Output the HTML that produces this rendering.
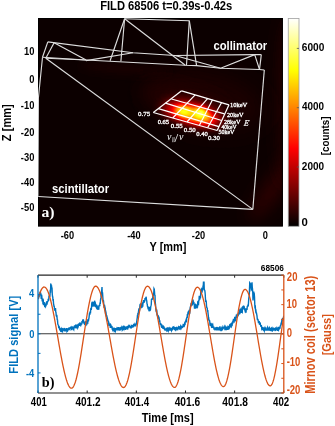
<!DOCTYPE html><html><head><meta charset="utf-8"><style>html,body{margin:0;padding:0;background:#fff;overflow:hidden}svg{display:block;will-change:transform}</style></head><body><svg width="335" height="426" viewBox="0 0 335 426"><defs><clipPath id="img"><rect x="38.0" y="18.0" width="244.89999999999998" height="208.6"/></clipPath><clipPath id="ax"><rect x="38" y="275" width="245.8" height="118"/></clipPath><linearGradient id="hot" x1="0" y1="1" x2="0" y2="0"><stop offset="0" stop-color="#000"/><stop offset="0.375" stop-color="#f00"/><stop offset="0.75" stop-color="#ff0"/><stop offset="1" stop-color="#fff"/></linearGradient><filter id="b2" filterUnits="userSpaceOnUse" x="-300" y="-300" width="935" height="1026"><feGaussianBlur stdDeviation="2"/></filter><filter id="b3" filterUnits="userSpaceOnUse" x="-300" y="-300" width="935" height="1026"><feGaussianBlur stdDeviation="3"/></filter><filter id="b4" filterUnits="userSpaceOnUse" x="-300" y="-300" width="935" height="1026"><feGaussianBlur stdDeviation="4"/></filter><filter id="b6" filterUnits="userSpaceOnUse" x="-300" y="-300" width="935" height="1026"><feGaussianBlur stdDeviation="6"/></filter><filter id="b8" filterUnits="userSpaceOnUse" x="-300" y="-300" width="935" height="1026"><feGaussianBlur stdDeviation="8"/></filter><filter id="b12" filterUnits="userSpaceOnUse" x="-300" y="-300" width="935" height="1026"><feGaussianBlur stdDeviation="12"/></filter><filter id="hotf" x="0" y="0" width="335" height="426" filterUnits="userSpaceOnUse" color-interpolation-filters="sRGB"><feComponentTransfer><feFuncR type="table" tableValues="0.0000 0.0007 0.0026 0.0059 0.0104 0.0163 0.0234 0.0319 0.0417 0.0527 0.0651 0.0788 0.0938 0.1100 0.1276 0.1465 0.1667 0.1882 0.2109 0.2350 0.2604 0.2871 0.3151 0.3444 0.3750 0.4069 0.4401 0.4746 0.5104 0.5475 0.5859 0.6257 0.6667 0.7090 0.7526 0.7975 0.8438 0.8913 0.9401 0.9902 1.0000 1.0000 1.0000 1.0000 1.0000 1.0000 1.0000 1.0000 1.0000 1.0000 1.0000 1.0000 1.0000 1.0000 1.0000 1.0000 1.0000 1.0000 1.0000 1.0000 1.0000 1.0000 1.0000 1.0000 1.0000"/><feFuncG type="table" tableValues="0.0000 0.0000 0.0000 0.0000 0.0000 0.0000 0.0000 0.0000 0.0000 0.0000 0.0000 0.0000 0.0000 0.0000 0.0000 0.0000 0.0000 0.0000 0.0000 0.0000 0.0000 0.0000 0.0000 0.0000 0.0000 0.0000 0.0000 0.0000 0.0000 0.0000 0.0000 0.0000 0.0000 0.0000 0.0000 0.0000 0.0000 0.0000 0.0000 0.0000 0.0417 0.0944 0.1484 0.2038 0.2604 0.3184 0.3776 0.4382 0.5000 0.5632 0.6276 0.6934 0.7604 0.8288 0.8984 0.9694 1.0000 1.0000 1.0000 1.0000 1.0000 1.0000 1.0000 1.0000 1.0000"/><feFuncB type="table" tableValues="0.0000 0.0000 0.0000 0.0000 0.0000 0.0000 0.0000 0.0000 0.0000 0.0000 0.0000 0.0000 0.0000 0.0000 0.0000 0.0000 0.0000 0.0000 0.0000 0.0000 0.0000 0.0000 0.0000 0.0000 0.0000 0.0000 0.0000 0.0000 0.0000 0.0000 0.0000 0.0000 0.0000 0.0000 0.0000 0.0000 0.0000 0.0000 0.0000 0.0000 0.0000 0.0000 0.0000 0.0000 0.0000 0.0000 0.0000 0.0000 0.0000 0.0000 0.0000 0.0000 0.0000 0.0000 0.0000 0.0000 0.0625 0.1729 0.2852 0.3994 0.5156 0.6338 0.7539 0.8760 1.0000"/></feComponentTransfer></filter></defs><rect width="335" height="426" fill="#fff"/><text transform="translate(100.15,9.70) scale(0.9173,1)" font-size="12.210" font-family="Liberation Sans" font-weight="bold" fill="#000">FILD 68506 t=0.39s-0.42s</text><g clip-path="url(#img)"><g filter="url(#hotf)"><rect x="30" y="10" width="260" height="225" fill="rgb(35,35,35)"/><ellipse cx="276" cy="185" rx="10" ry="45" transform="rotate(36 276 185)" fill="rgb(67,67,67)" filter="url(#b8)"/><ellipse cx="288" cy="100" rx="10" ry="85" fill="rgb(62,62,62)" filter="url(#b8)"/><ellipse cx="205" cy="100" rx="60" ry="28" transform="rotate(12 205 100)" fill="rgb(54,54,54)" filter="url(#b12)"/><ellipse cx="125" cy="69" rx="45" ry="5" transform="rotate(4 125 69)" fill="rgb(51,51,51)" filter="url(#b4)"/><g transform="rotate(15 190 112)"><ellipse cx="182" cy="104" rx="45" ry="14" fill="rgb(57,57,57)" filter="url(#b8)"/><ellipse cx="171" cy="116" rx="12" ry="4.5" fill="rgb(102,102,102)" filter="url(#b4)"/><ellipse cx="194" cy="113" rx="31" ry="12" fill="rgb(161,161,161)" filter="url(#b6)"/><ellipse cx="194" cy="113.5" rx="20" ry="7" fill="rgb(201,201,201)" filter="url(#b3)"/></g><ellipse cx="200.5" cy="113" rx="6" ry="4.5" fill="rgb(251,251,251)" filter="url(#b3)"/><ellipse cx="184" cy="111.5" rx="7" ry="3.5" fill="rgb(239,239,239)" filter="url(#b3)"/></g><rect x="38.5" y="18.5" width="243.89999999999998" height="207.6" fill="none" stroke="#000" stroke-width="1"/><polyline points="47.8,41.9 42.5,57.2" fill="none" stroke="#dedede" stroke-width="1.15" stroke-linejoin="round"/><polyline points="47.8,41.9 133,52.7 175,55.5 254.7,54.6 261.3,54.6" fill="none" stroke="#dedede" stroke-width="1.15" stroke-linejoin="round"/><polyline points="54.1,42.8 86.1,60" fill="none" stroke="#dedede" stroke-width="1.15" stroke-linejoin="round"/><polyline points="54.1,42.8 45.8,58.3" fill="none" stroke="#dedede" stroke-width="1.15" stroke-linejoin="round"/><polyline points="42.5,57.2 86.1,60" fill="none" stroke="#dedede" stroke-width="1.15" stroke-linejoin="round"/><polyline points="45.8,58.3 86.1,60" fill="none" stroke="#dedede" stroke-width="1.15" stroke-linejoin="round"/><polyline points="86.1,60.6 133,52.8" fill="none" stroke="#dedede" stroke-width="1.15" stroke-linejoin="round"/><polyline points="86.1,60 185.3,65.3 196.6,65.6 220.6,68.2 259.5,69.5 264.3,70" fill="none" stroke="#dedede" stroke-width="1.15" stroke-linejoin="round"/><polyline points="124.6,18.8 110.1,60.8" fill="none" stroke="#dedede" stroke-width="1.15" stroke-linejoin="round"/><polyline points="124.6,18.8 120.9,61.2" fill="none" stroke="#dedede" stroke-width="1.15" stroke-linejoin="round"/><polyline points="124.6,18.8 185.3,65.3" fill="none" stroke="#dedede" stroke-width="1.15" stroke-linejoin="round"/><polyline points="124.6,18.8 189.3,20.7" fill="none" stroke="#dedede" stroke-width="1.15" stroke-linejoin="round"/><polyline points="189.3,20.7 186.5,65.3" fill="none" stroke="#dedede" stroke-width="1.15" stroke-linejoin="round"/><polyline points="189.3,20.7 196.6,65.6" fill="none" stroke="#dedede" stroke-width="1.15" stroke-linejoin="round"/><polyline points="175,55.5 220.6,68.2 254.7,54.6 259.5,69.5" fill="none" stroke="#dedede" stroke-width="1.15" stroke-linejoin="round"/><polyline points="261.3,54.6 259.5,69.5" fill="none" stroke="#dedede" stroke-width="1.15" stroke-linejoin="round"/><polyline points="264.3,70 252.8,209.4" fill="none" stroke="#dedede" stroke-width="1.15" stroke-linejoin="round"/><polyline points="45.8,58.3 252.8,209.4" fill="none" stroke="#dedede" stroke-width="1.15" stroke-linejoin="round"/><polyline points="38.2,196.5 252.8,209.4" fill="none" stroke="#dedede" stroke-width="1.15" stroke-linejoin="round"/><polyline points="42.5,57.2 38.4,98 37.9,196.5" fill="none" stroke="#dedede" stroke-width="1.15" stroke-linejoin="round"/><polyline points="181.6,90.8 229.0,104.8" fill="none" stroke="#fff" stroke-width="1.2"/><polyline points="171.5,99.0 224.5,113.8" fill="none" stroke="#fff" stroke-width="1.2"/><polyline points="165.5,103.1 221.6,120.5" fill="none" stroke="#fff" stroke-width="1.2"/><polyline points="158.4,108.6 218.9,126.6" fill="none" stroke="#fff" stroke-width="1.2"/><polyline points="153.3,112.5 217.2,130.5" fill="none" stroke="#fff" stroke-width="1.2"/><polyline points="153.3,112.5 181.6,90.8" fill="none" stroke="#fff" stroke-width="1.2"/><polyline points="172.7,118.0 195.2,94.8" fill="none" stroke="#fff" stroke-width="1.2"/><polyline points="187,122.0 207.8,98.4" fill="none" stroke="#fff" stroke-width="1.2"/><polyline points="199.3,125.5 212.5,99.8" fill="none" stroke="#fff" stroke-width="1.2"/><polyline points="207.6,127.8 221.6,102.5" fill="none" stroke="#fff" stroke-width="1.2"/><polyline points="217.2,130.5 229.0,104.8" fill="none" stroke="#fff" stroke-width="1.2"/><text transform="translate(213.46,50.00) scale(0.8573,1)" font-size="13.111" font-family="Liberation Sans" font-weight="bold" fill="#fff">collimator</text><text transform="translate(51.90,192.50) scale(0.9034,1)" font-size="12.558" font-family="Liberation Sans" font-weight="bold" fill="#fff">scintillator</text><text transform="translate(41.39,217.09) scale(1.1138,1)" font-size="14.117" font-family="Liberation Serif" font-weight="bold" fill="#fff">a)</text><g stroke="#fff" stroke-width="0.3"><text transform="translate(138.04,116.13) scale(1.0398,1)" font-size="6.669" font-family="Liberation Serif" fill="#fff">0.75</text><text transform="translate(157.65,124.14) scale(1.0724,1)" font-size="6.076" font-family="Liberation Serif" fill="#fff">0.65</text><text transform="translate(170.84,128.44) scale(1.1496,1)" font-size="5.928" font-family="Liberation Serif" fill="#fff">0.55</text><text transform="translate(183.74,132.03) scale(1.0303,1)" font-size="6.669" font-family="Liberation Serif" fill="#fff">0.50</text><text transform="translate(196.15,136.04) scale(1.0262,1)" font-size="6.520" font-family="Liberation Serif" fill="#fff">0.40</text><text transform="translate(207.94,140.03) scale(0.9864,1)" font-size="6.965" font-family="Liberation Serif" fill="#fff">0.30</text><text transform="translate(229.93,106.60) scale(1.0498,1)" font-size="6.197" font-family="Liberation Serif" fill="#fff">10keV</text><text transform="translate(227.03,117.40) scale(0.9724,1)" font-size="6.341" font-family="Liberation Serif" fill="#fff">20keV</text><text transform="translate(223.93,123.70) scale(0.9950,1)" font-size="6.197" font-family="Liberation Serif" fill="#fff">28keV</text><text transform="translate(221.39,129.10) scale(0.9246,1)" font-size="6.197" font-family="Liberation Serif" fill="#fff">40keV</text><text transform="translate(218.45,134.40) scale(0.9694,1)" font-size="6.197" font-family="Liberation Serif" fill="#fff">50keV</text></g><g transform="translate(246 123) skewX(-10) translate(-246 -123)" stroke="#fff" stroke-width="0.2"><text transform="translate(244.00,125.80) scale(0.9150,1)" font-size="9.011" font-family="Liberation Serif" font-style="italic" fill="#fff">E</text></g><g><text transform="translate(166.96,140.01) scale(1.0649,1)" font-size="9.387" font-family="Liberation Serif" font-style="italic" fill="#fff">ν</text><path d="M172.9,137.1 L172.5,142.2 M174.3,137.1 L173.9,142.2" stroke="#fff" stroke-width="0.55" fill="none"/><text transform="translate(174.60,142.17) scale(0.9898,1)" font-size="13.454" font-family="Liberation Serif" fill="#fff">/</text><text transform="translate(178.96,140.01) scale(1.0649,1)" font-size="9.387" font-family="Liberation Serif" font-style="italic" fill="#fff">ν</text></g></g><text transform="translate(23.95,55.34) scale(0.8000,1)" font-size="11.723" font-family="Liberation Sans" font-weight="bold" fill="#000">10</text><text transform="translate(29.17,82.69) scale(0.8000,1)" font-size="11.723" font-family="Liberation Sans" font-weight="bold" fill="#000">0</text><text transform="translate(20.83,109.34) scale(0.8000,1)" font-size="11.723" font-family="Liberation Sans" font-weight="bold" fill="#000">-10</text><text transform="translate(20.83,135.64) scale(0.8000,1)" font-size="11.723" font-family="Liberation Sans" font-weight="bold" fill="#000">-20</text><text transform="translate(20.83,160.94) scale(0.8000,1)" font-size="11.723" font-family="Liberation Sans" font-weight="bold" fill="#000">-30</text><text transform="translate(20.83,186.24) scale(0.8000,1)" font-size="11.723" font-family="Liberation Sans" font-weight="bold" fill="#000">-40</text><text transform="translate(20.83,210.74) scale(0.8000,1)" font-size="11.723" font-family="Liberation Sans" font-weight="bold" fill="#000">-50</text><text transform="translate(60.71,238.69) scale(0.8000,1)" font-size="11.582" font-family="Liberation Sans" font-weight="bold" fill="#000">-60</text><text transform="translate(127.16,238.69) scale(0.8000,1)" font-size="11.582" font-family="Liberation Sans" font-weight="bold" fill="#000">-40</text><text transform="translate(191.86,238.69) scale(0.8000,1)" font-size="11.582" font-family="Liberation Sans" font-weight="bold" fill="#000">-20</text><text transform="translate(262.73,238.69) scale(0.8000,1)" font-size="11.582" font-family="Liberation Sans" font-weight="bold" fill="#000">0</text><text transform="translate(149.51,251.12) scale(0.8163,1)" font-size="13.410" font-family="Liberation Sans" font-weight="bold" fill="#000">Y [mm]</text><text transform="translate(11.08,141.13) rotate(-90) scale(0.8471,1)" font-size="13.088" font-family="Liberation Sans" font-weight="bold" fill="#000">Z [mm]</text><rect x="288.25" y="18.5" width="10.75" height="207.8" fill="url(#hot)" stroke="#a0a0a0" stroke-width="0.8"/><line x1="296.8" y1="167.00" x2="299" y2="167.00" stroke="#555" stroke-width="0.8"/><line x1="296.8" y1="107.70" x2="299" y2="107.70" stroke="#555" stroke-width="0.8"/><line x1="296.8" y1="48.40" x2="299" y2="48.40" stroke="#555" stroke-width="0.8"/><text transform="translate(301.83,51.49) scale(0.8661,1)" font-size="11.723" font-family="Liberation Sans" font-weight="bold" fill="#000">6000</text><text transform="translate(302.05,110.19) scale(0.8666,1)" font-size="11.441" font-family="Liberation Sans" font-weight="bold" fill="#000">4000</text><text transform="translate(301.85,170.29) scale(0.8639,1)" font-size="11.582" font-family="Liberation Sans" font-weight="bold" fill="#000">2000</text><text transform="translate(301.45,226.29) scale(0.9925,1)" font-size="11.441" font-family="Liberation Sans" font-weight="bold" fill="#000">0</text><text transform="translate(328.57,155.15) rotate(-90) scale(0.8392,1)" font-size="11.694" font-family="Liberation Sans" font-weight="bold" fill="#000">[counts]</text><line x1="38.0" y1="333.8" x2="283.8" y2="333.8" stroke="#3a3a3a" stroke-width="1.1"/><g clip-path="url(#ax)"><polyline points="38.00,297.87 38.25,296.25 38.50,298.98 38.75,294.71 39.00,297.24 39.25,295.61 39.50,293.06 39.75,295.55 40.00,291.88 40.25,294.89 40.50,292.80 40.75,293.29 41.00,295.85 41.25,298.84 41.50,294.55 41.75,295.55 42.00,298.53 42.25,301.46 42.50,299.96 42.75,299.71 43.00,304.20 43.25,299.37 43.50,305.19 43.75,302.66 44.00,302.71 44.25,302.71 44.50,303.98 44.75,307.09 45.00,303.54 45.25,306.02 45.50,306.50 45.75,305.11 46.00,306.28 46.25,302.83 46.50,302.16 46.75,302.38 47.00,304.58 47.25,302.44 47.50,301.12 47.75,302.15 48.00,300.71 48.25,298.80 48.50,301.00 48.75,299.47 49.00,295.57 49.25,296.81 49.50,295.54 49.75,296.99 50.00,295.08 50.25,289.87 50.50,292.74 50.75,284.28 51.00,284.37 51.25,288.36 51.50,285.28 51.75,289.19 52.00,287.41 52.25,293.78 52.50,296.32 52.75,296.92 53.00,300.77 53.25,299.09 53.50,303.37 53.75,304.65 54.00,306.46 54.25,306.48 54.50,309.36 54.75,310.65 55.00,308.76 55.25,310.52 55.50,307.99 55.75,312.14 56.00,312.57 56.25,315.72 56.50,316.21 56.75,314.95 57.00,316.86 57.25,320.32 57.50,319.62 57.75,323.69 58.00,324.69 58.25,324.92 58.50,325.14 58.75,328.31 59.00,326.29 59.25,327.17 59.50,328.14 59.75,330.35 60.00,327.87 60.25,329.29 60.50,329.73 60.75,331.02 61.00,330.86 61.25,331.09 61.50,329.05 61.75,329.62 62.00,329.49 62.25,331.37 62.50,331.62 62.75,328.69 63.00,328.77 63.25,328.96 63.50,328.94 63.75,329.84 64.00,330.20 64.25,329.00 64.50,328.05 64.75,329.54 65.00,329.34 65.25,330.04 65.50,331.42 65.75,330.46 66.00,329.81 66.25,330.16 66.50,330.36 66.75,328.09 67.00,331.14 67.25,330.69 67.50,331.02 67.75,330.72 68.00,329.23 68.25,329.24 68.50,328.15 68.75,330.07 69.00,327.97 69.25,327.97 69.50,328.47 69.75,328.29 70.00,328.92 70.25,327.75 70.50,327.44 70.75,327.87 71.00,327.57 71.25,328.42 71.50,327.05 71.75,330.08 72.00,329.00 72.25,327.15 72.50,327.41 72.75,327.65 73.00,327.60 73.25,326.57 73.50,329.20 73.75,329.64 74.00,327.52 74.25,327.47 74.50,325.83 74.75,325.77 75.00,326.58 75.25,326.16 75.50,328.23 75.75,325.53 76.00,324.87 76.25,328.37 76.50,326.60 76.75,324.99 77.00,326.43 77.25,324.28 77.50,326.14 77.75,327.81 78.00,327.25 78.25,326.37 78.50,324.40 78.75,324.61 79.00,323.57 79.25,325.81 79.50,324.62 79.75,325.42 80.00,323.35 80.25,322.68 80.50,324.91 80.75,325.43 81.00,324.66 81.25,324.25 81.50,324.09 81.75,323.54 82.00,321.13 82.25,322.28 82.50,321.48 82.75,319.97 83.00,319.86 83.25,320.84 83.50,320.65 83.75,322.44 84.00,323.49 84.25,321.55 84.50,323.94 84.75,324.42 85.00,324.54 85.25,322.30 85.50,321.97 85.75,322.28 86.00,322.44 86.25,322.10 86.50,323.50 86.75,324.32 87.00,323.71 87.25,321.80 87.50,322.19 87.75,322.48 88.00,318.96 88.25,320.48 88.50,320.59 88.75,318.98 89.00,317.80 89.25,315.44 89.50,312.89 89.75,314.92 90.00,311.53 90.25,313.01 90.50,312.98 90.75,308.91 91.00,307.95 91.25,310.04 91.50,307.83 91.75,303.66 92.00,302.40 92.25,302.37 92.50,306.65 92.75,305.89 93.00,301.80 93.25,305.67 93.50,306.42 93.75,304.32 94.00,302.30 94.25,303.67 94.50,301.34 94.75,300.83 95.00,306.70 95.25,304.96 95.50,304.41 95.75,306.98 96.00,304.21 96.25,307.44 96.50,307.83 96.75,304.98 97.00,305.90 97.25,306.82 97.50,307.22 97.75,309.80 98.00,308.70 98.25,308.68 98.50,306.20 98.75,309.69 99.00,305.66 99.25,305.38 99.50,305.24 99.75,306.28 100.00,302.52 100.25,304.08 100.50,300.01 100.75,298.70 101.00,297.15 101.25,292.17 101.50,293.39 101.75,289.98 102.00,287.06 102.25,294.61 102.50,292.22 102.75,296.20 103.00,299.75 103.25,300.43 103.50,300.78 103.75,303.73 104.00,305.72 104.25,307.91 104.50,304.92 104.75,308.36 105.00,307.52 105.25,308.57 105.50,312.10 105.75,311.57 106.00,312.72 106.25,314.77 106.50,316.56 106.75,315.27 107.00,317.14 107.25,317.68 107.50,318.76 107.75,320.62 108.00,320.59 108.25,321.47 108.50,321.75 108.75,324.27 109.00,323.74 109.25,325.00 109.50,325.78 109.75,323.49 110.00,325.24 110.25,327.23 110.50,327.25 110.75,324.92 111.00,325.33 111.25,327.03 111.50,326.07 111.75,327.17 112.00,327.01 112.25,329.29 112.50,329.77 112.75,330.25 113.00,327.55 113.25,329.69 113.50,329.54 113.75,327.69 114.00,330.48 114.25,330.84 114.50,328.15 114.75,330.90 115.00,328.93 115.25,329.23 115.50,331.04 115.75,330.44 116.00,327.95 116.25,328.91 116.50,329.20 116.75,328.52 117.00,327.96 117.25,328.39 117.50,329.85 117.75,327.23 118.00,329.18 118.25,328.73 118.50,327.14 118.75,328.27 119.00,329.33 119.25,328.89 119.50,327.20 119.75,330.59 120.00,329.83 120.25,330.49 120.50,327.24 120.75,327.81 121.00,326.94 121.25,329.67 121.50,327.74 121.75,327.19 122.00,328.26 122.25,330.06 122.50,329.68 122.75,327.56 123.00,327.13 123.25,329.98 123.50,328.65 123.75,329.11 124.00,326.79 124.25,326.64 124.50,328.98 124.75,327.97 125.00,326.62 125.25,329.85 125.50,328.68 125.75,329.28 126.00,326.55 126.25,329.43 126.50,326.43 126.75,329.40 127.00,327.83 127.25,327.37 127.50,328.15 127.75,329.54 128.00,327.02 128.25,326.45 128.50,327.91 128.75,326.77 129.00,326.24 129.25,326.39 129.50,325.92 129.75,326.46 130.00,326.83 130.25,326.76 130.50,328.46 130.75,326.61 131.00,327.38 131.25,326.09 131.50,326.70 131.75,325.39 132.00,326.24 132.25,325.05 132.50,327.56 132.75,326.58 133.00,324.87 133.25,325.72 133.50,327.29 133.75,323.69 134.00,326.29 134.25,324.65 134.50,324.83 134.75,326.14 135.00,324.26 135.25,324.65 135.50,325.32 135.75,326.45 136.00,323.75 136.25,324.62 136.50,322.94 136.75,321.48 137.00,319.27 137.25,317.82 137.50,315.24 137.75,314.38 138.00,312.88 138.25,315.09 138.50,311.49 138.75,309.86 139.00,308.27 139.25,311.24 139.50,310.31 139.75,308.09 140.00,304.74 140.25,304.34 140.50,304.45 140.75,305.24 141.00,303.31 141.25,304.81 141.50,303.56 141.75,307.49 142.00,307.38 142.25,304.62 142.50,302.56 142.75,306.59 143.00,302.41 143.25,302.43 143.50,300.02 143.75,302.05 144.00,302.35 144.25,302.17 144.50,299.96 144.75,301.48 145.00,298.03 145.25,299.28 145.50,297.83 145.75,299.42 146.00,296.80 146.25,297.60 146.50,300.27 146.75,300.74 147.00,303.76 147.25,304.31 147.50,306.49 147.75,306.82 148.00,308.03 148.25,309.38 148.50,307.06 148.75,307.14 149.00,311.23 149.25,307.06 149.50,310.65 149.75,310.64 150.00,307.85 150.25,310.65 150.50,309.51 150.75,306.54 151.00,305.68 151.25,304.69 151.50,299.07 151.75,299.95 152.00,298.33 152.25,299.53 152.50,298.39 152.75,297.60 153.00,295.02 153.25,296.19 153.50,293.80 153.75,292.93 154.00,288.67 154.25,289.18 154.50,291.80 154.75,295.22 155.00,295.44 155.25,302.99 155.50,304.15 155.75,307.43 156.00,310.29 156.25,311.44 156.50,311.29 156.75,309.64 157.00,314.62 157.25,315.23 157.50,314.86 157.75,315.90 158.00,317.37 158.25,315.25 158.50,319.13 158.75,317.59 159.00,317.51 159.25,319.11 159.50,321.89 159.75,320.30 160.00,323.33 160.25,324.93 160.50,323.50 160.75,323.65 161.00,324.66 161.25,326.10 161.50,327.03 161.75,327.04 162.00,327.75 162.25,325.75 162.50,326.20 162.75,326.79 163.00,328.82 163.25,327.34 163.50,328.50 163.75,326.60 164.00,326.96 164.25,327.92 164.50,329.59 164.75,329.83 165.00,329.94 165.25,328.52 165.50,329.34 165.75,329.13 166.00,329.13 166.25,327.84 166.50,330.67 166.75,328.11 167.00,330.96 167.25,330.79 167.50,327.40 167.75,329.01 168.00,330.33 168.25,330.86 168.50,328.94 168.75,328.26 169.00,328.03 169.25,330.73 169.50,328.01 169.75,329.36 170.00,327.73 170.25,329.13 170.50,330.69 170.75,327.66 171.00,330.18 171.25,329.02 171.50,330.40 171.75,329.71 172.00,327.96 172.25,330.41 172.50,328.87 172.75,327.16 173.00,327.06 173.25,328.86 173.50,328.69 173.75,328.13 174.00,327.52 174.25,328.26 174.50,328.14 174.75,330.07 175.00,326.95 175.25,329.69 175.50,329.98 175.75,327.27 176.00,330.23 176.25,329.39 176.50,330.06 176.75,327.74 177.00,328.00 177.25,328.04 177.50,330.27 177.75,328.69 178.00,327.80 178.25,328.01 178.50,327.39 178.75,326.50 179.00,326.66 179.25,329.38 179.50,327.27 179.75,329.68 180.00,327.05 180.25,326.77 180.50,327.37 180.75,325.79 181.00,326.16 181.25,328.11 181.50,327.50 181.75,326.88 182.00,325.83 182.25,327.05 182.50,327.24 182.75,325.76 183.00,326.53 183.25,323.94 183.50,326.75 183.75,325.72 184.00,327.00 184.25,325.96 184.50,323.88 184.75,322.26 185.00,325.29 185.25,321.29 185.50,322.13 185.75,320.94 186.00,320.11 186.25,321.20 186.50,321.43 186.75,317.26 187.00,318.24 187.25,315.67 187.50,316.03 187.75,314.35 188.00,312.32 188.25,311.75 188.50,311.45 188.75,314.53 189.00,311.88 189.25,309.90 189.50,313.01 189.75,312.99 190.00,309.53 190.25,307.12 190.50,306.69 190.75,305.41 191.00,306.10 191.25,303.96 191.50,304.09 191.75,303.48 192.00,304.61 192.25,305.48 192.50,303.63 192.75,300.51 193.00,299.46 193.25,301.55 193.50,302.06 193.75,303.24 194.00,303.06 194.25,304.49 194.50,308.65 194.75,303.97 195.00,306.32 195.25,307.22 195.50,308.72 195.75,305.21 196.00,305.70 196.25,305.22 196.50,305.73 196.75,305.64 197.00,308.23 197.25,307.28 197.50,307.08 197.75,301.73 198.00,301.43 198.25,304.40 198.50,304.49 198.75,300.85 199.00,300.50 199.25,295.69 199.50,297.12 199.75,299.58 200.00,297.88 200.25,297.31 200.50,297.35 200.75,291.60 201.00,289.82 201.25,289.33 201.50,291.13 201.75,291.50 202.00,292.60 202.25,290.31 202.50,289.06 202.75,289.23 203.00,286.23 203.25,286.23 203.50,281.61 203.75,286.59 204.00,281.62 204.25,289.51 204.50,290.06 204.75,290.27 205.00,291.77 205.25,294.78 205.50,299.43 205.75,301.91 206.00,300.45 206.25,301.66 206.50,305.74 206.75,307.47 207.00,307.78 207.25,308.30 207.50,311.73 207.75,310.07 208.00,313.00 208.25,315.04 208.50,318.69 208.75,318.39 209.00,320.71 209.25,320.08 209.50,320.27 209.75,321.58 210.00,325.81 210.25,325.01 210.50,323.63 210.75,322.74 211.00,324.94 211.25,325.92 211.50,325.15 211.75,324.77 212.00,326.66 212.25,327.91 212.50,325.40 212.75,324.88 213.00,326.31 213.25,326.86 213.50,328.10 213.75,326.48 214.00,328.99 214.25,329.00 214.50,328.35 214.75,327.47 215.00,330.54 215.25,328.09 215.50,329.97 215.75,327.77 216.00,327.73 216.25,329.72 216.50,327.98 216.75,330.41 217.00,328.71 217.25,327.55 217.50,327.68 217.75,328.39 218.00,329.30 218.25,330.34 218.50,327.35 218.75,328.26 219.00,327.58 219.25,330.40 219.50,327.29 219.75,326.95 220.00,326.97 220.25,328.20 220.50,330.07 220.75,330.01 221.00,329.44 221.25,330.42 221.50,330.16 221.75,327.90 222.00,327.36 222.25,330.15 222.50,329.43 222.75,326.75 223.00,329.11 223.25,328.03 223.50,328.00 223.75,327.83 224.00,327.22 224.25,326.58 224.50,327.61 224.75,327.87 225.00,330.12 225.25,327.00 225.50,330.13 225.75,327.29 226.00,327.84 226.25,329.57 226.50,329.56 226.75,328.09 227.00,326.65 227.25,328.23 227.50,327.84 227.75,329.88 228.00,327.15 228.25,327.53 228.50,329.30 228.75,325.74 229.00,326.93 229.25,328.22 229.50,327.80 229.75,324.71 230.00,324.42 230.25,324.26 230.50,327.41 230.75,324.51 231.00,326.22 231.25,326.58 231.50,324.06 231.75,323.52 232.00,326.09 232.25,324.16 232.50,322.15 232.75,323.55 233.00,321.31 233.25,320.60 233.50,318.86 233.75,321.66 234.00,321.87 234.25,320.29 234.50,321.39 234.75,316.88 235.00,317.52 235.25,318.32 235.50,320.26 235.75,319.94 236.00,316.96 236.25,315.89 236.50,316.31 236.75,316.19 237.00,317.89 237.25,313.82 237.50,316.45 237.75,315.72 238.00,315.72 238.25,315.28 238.50,314.24 238.75,312.62 239.00,312.38 239.25,312.39 239.50,314.35 239.75,310.53 240.00,310.93 240.25,313.50 240.50,310.55 240.75,309.27 241.00,308.79 241.25,311.22 241.50,309.69 241.75,312.89 242.00,312.07 242.25,312.32 242.50,308.07 242.75,306.74 243.00,306.47 243.25,308.37 243.50,309.22 243.75,307.43 244.00,305.90 244.25,307.36 244.50,308.92 244.75,309.64 245.00,310.46 245.25,311.41 245.50,310.84 245.75,308.34 246.00,312.62 246.25,309.17 246.50,310.11 246.75,308.53 247.00,310.01 247.25,306.50 247.50,306.23 247.75,305.68 248.00,304.62 248.25,306.57 248.50,302.48 248.75,298.60 249.00,296.72 249.25,296.63 249.50,289.10 249.75,282.82 250.00,283.18 250.25,283.78 250.50,288.23 250.75,283.33 251.00,288.01 251.25,289.94 251.50,289.50 251.75,289.45 252.00,282.21 252.25,287.11 252.50,288.86 252.75,292.36 253.00,300.49 253.25,296.28 253.50,296.99 253.75,291.48 254.00,293.31 254.25,294.13 254.50,296.70 254.75,303.72 255.00,308.38 255.25,305.26 255.50,309.68 255.75,311.46 256.00,311.04 256.25,312.98 256.50,313.02 256.75,314.51 257.00,315.93 257.25,318.71 257.50,320.09 257.75,319.23 258.00,319.58 258.25,321.27 258.50,323.09 258.75,321.30 259.00,322.15 259.25,322.01 259.50,324.81 259.75,324.09 260.00,322.40 260.25,323.09 260.50,324.80 260.75,325.94 261.00,326.80 261.25,325.17 261.50,325.98 261.75,328.53 262.00,327.96 262.25,327.56 262.50,327.73 262.75,330.22 263.00,327.90 263.25,328.92 263.50,328.22 263.75,328.52 264.00,330.25 264.25,330.81 264.50,328.55 264.75,328.01 265.00,330.04 265.25,328.11 265.50,327.39 265.75,330.67 266.00,328.92 266.25,330.38 266.50,328.86 266.75,330.61 267.00,329.06 267.25,327.96 267.50,327.42 267.75,329.39 268.00,329.72 268.25,330.70 268.50,327.69 268.75,329.65 269.00,328.73 269.25,329.22 269.50,327.90 269.75,328.40 270.00,329.28 270.25,330.76 270.50,327.76 270.75,329.17 271.00,330.32 271.25,330.91 271.50,328.09 271.75,327.83 272.00,330.83 272.25,330.95 272.50,329.14 272.75,327.56 273.00,330.76 273.25,328.79 273.50,330.68 273.75,329.64 274.00,330.39 274.25,327.95 274.50,330.25 274.75,328.18 275.00,328.85 275.25,330.47 275.50,330.41 275.75,328.04 276.00,328.16 276.25,328.83 276.50,329.27 276.75,328.77 277.00,327.82 277.25,328.27 277.50,330.03 277.75,330.66 278.00,327.51 278.25,329.22 278.50,329.73 278.75,326.84 279.00,329.62 279.25,326.70 279.50,328.30 279.75,327.90 280.00,327.99 280.25,325.91 280.50,325.51 280.75,325.32 281.00,323.84 281.25,323.98 281.50,322.25 281.75,321.37 282.00,318.69 282.25,320.81 282.50,319.70 282.75,318.02 283.00,319.92 283.25,319.48 283.50,317.45 283.75,315.60" fill="none" stroke="#0072bd" stroke-width="1.4"/><polyline points="38.00,299.37 38.50,297.52 39.00,295.81 39.50,294.24 40.00,292.81 40.50,291.53 41.00,290.40 41.50,289.43 42.00,288.62 42.50,287.97 43.00,287.48 43.50,287.16 44.00,287.01 44.50,287.03 45.00,287.21 45.50,287.57 46.00,288.08 46.50,288.76 47.00,289.60 47.50,290.60 48.00,291.76 48.50,293.07 49.00,294.53 49.50,296.12 50.00,297.86 50.50,299.73 51.00,301.72 51.50,303.83 52.00,306.05 52.50,308.38 53.00,310.80 53.50,313.32 54.00,315.91 54.50,318.57 55.00,321.30 55.50,324.08 56.00,326.91 56.50,329.77 57.00,332.66 57.50,335.56 58.00,338.47 58.50,341.38 59.00,344.28 59.50,347.15 60.00,349.99 60.50,352.79 61.00,355.54 61.50,358.23 62.00,360.86 62.50,363.40 63.00,365.86 63.50,368.23 64.00,370.50 64.50,372.65 65.00,374.69 65.50,376.61 66.00,378.40 66.50,380.05 67.00,381.57 67.50,382.93 68.00,384.15 68.50,385.21 69.00,386.12 69.50,386.87 70.00,387.45 70.50,387.87 71.00,388.12 71.50,388.20 72.00,388.09 72.50,387.77 73.00,387.24 73.50,386.49 74.00,385.54 74.50,384.38 75.00,383.03 75.50,381.48 76.00,379.74 76.50,377.83 77.00,375.74 77.50,373.50 78.00,371.10 78.50,368.55 79.00,365.88 79.50,363.08 80.00,360.18 80.50,357.17 81.00,354.09 81.50,350.93 82.00,347.72 82.50,344.46 83.00,341.17 83.50,337.86 84.00,334.55 84.50,331.25 85.00,327.98 85.50,324.75 86.00,321.57 86.50,318.45 87.00,315.41 87.50,312.47 88.00,309.63 88.50,306.90 89.00,304.31 89.50,301.85 90.00,299.54 90.50,297.39 91.00,295.40 91.50,293.59 92.00,291.97 92.50,290.54 93.00,289.30 93.50,288.27 94.00,287.44 94.50,286.82 95.00,286.41 95.50,286.22 96.00,286.23 96.50,286.41 97.00,286.74 97.50,287.24 98.00,287.89 98.50,288.70 99.00,289.66 99.50,290.77 100.00,292.02 100.50,293.42 101.00,294.96 101.50,296.62 102.00,298.42 102.50,300.34 103.00,302.37 103.50,304.51 104.00,306.76 104.50,309.10 105.00,311.52 105.50,314.03 106.00,316.61 106.50,319.26 107.00,321.96 107.50,324.71 108.00,327.49 108.50,330.31 109.00,333.15 109.50,335.99 110.00,338.85 110.50,341.69 111.00,344.52 111.50,347.32 112.00,350.10 112.50,352.83 113.00,355.51 113.50,358.13 114.00,360.68 114.50,363.16 115.00,365.55 115.50,367.85 116.00,370.06 116.50,372.16 117.00,374.14 117.50,376.01 118.00,377.76 118.50,379.38 119.00,380.86 119.50,382.20 120.00,383.40 120.50,384.45 121.00,385.34 121.50,386.09 122.00,386.68 122.50,387.11 123.00,387.38 123.50,387.50 124.00,387.43 124.50,387.15 125.00,386.64 125.50,385.93 126.00,385.00 126.50,383.86 127.00,382.53 127.50,380.99 128.00,379.26 128.50,377.35 129.00,375.27 129.50,373.02 130.00,370.61 130.50,368.06 131.00,365.37 131.50,362.56 132.00,359.64 132.50,356.62 133.00,353.51 133.50,350.33 134.00,347.10 134.50,343.82 135.00,340.51 135.50,337.18 136.00,333.86 136.50,330.54 137.00,327.25 137.50,324.01 138.00,320.82 138.50,317.70 139.00,314.66 139.50,311.72 140.00,308.88 140.50,306.17 141.00,303.59 141.50,301.15 142.00,298.87 142.50,296.75 143.00,294.81 143.50,293.04 144.00,291.47 144.50,290.09 145.00,288.91 145.50,287.94 146.00,287.18 146.50,286.64 147.00,286.31 147.50,286.20 148.00,286.29 148.50,286.54 149.00,286.97 149.50,287.56 150.00,288.33 150.50,289.25 151.00,290.34 151.50,291.58 152.00,292.98 152.50,294.52 153.00,296.21 153.50,298.04 154.00,299.99 154.50,302.08 155.00,304.27 155.50,306.58 156.00,308.99 156.50,311.50 157.00,314.09 157.50,316.76 158.00,319.49 158.50,322.29 159.00,325.13 159.50,328.01 160.00,330.93 160.50,333.86 161.00,336.80 161.50,339.74 162.00,342.67 162.50,345.59 163.00,348.47 163.50,351.31 164.00,354.11 164.50,356.84 165.00,359.51 165.50,362.10 166.00,364.61 166.50,367.02 167.00,369.33 167.50,371.52 168.00,373.61 168.50,375.56 169.00,377.39 169.50,379.08 170.00,380.62 170.50,382.02 171.00,383.26 171.50,384.35 172.00,385.27 172.50,386.04 173.00,386.63 173.50,387.06 174.00,387.31 174.50,387.40 175.00,387.28 175.50,386.93 176.00,386.34 176.50,385.53 177.00,384.48 177.50,383.22 178.00,381.73 178.50,380.04 179.00,378.15 179.50,376.07 180.00,373.80 180.50,371.36 181.00,368.77 181.50,366.02 182.00,363.14 182.50,360.14 183.00,357.03 183.50,353.82 184.00,350.54 184.50,347.20 185.00,343.81 185.50,340.39 186.00,336.96 186.50,333.52 187.00,330.11 187.50,326.73 188.00,323.40 188.50,320.13 189.00,316.94 189.50,313.85 190.00,310.87 190.50,308.02 191.00,305.30 191.50,302.73 192.00,300.33 192.50,298.10 193.00,296.05 193.50,294.20 194.00,292.55 194.50,291.11 195.00,289.89 195.50,288.89 196.00,288.12 196.50,287.58 197.00,287.28 197.50,287.20 198.00,287.33 198.50,287.64 199.00,288.13 199.50,288.79 200.00,289.63 200.50,290.65 201.00,291.83 201.50,293.18 202.00,294.68 202.50,296.34 203.00,298.15 203.50,300.10 204.00,302.18 204.50,304.39 205.00,306.72 205.50,309.16 206.00,311.70 206.50,314.34 207.00,317.05 207.50,319.84 208.00,322.69 208.50,325.59 209.00,328.53 209.50,331.51 210.00,334.50 210.50,337.50 211.00,340.50 211.50,343.49 212.00,346.45 212.50,349.38 213.00,352.26 213.50,355.08 214.00,357.84 214.50,360.53 215.00,363.12 215.50,365.62 216.00,368.02 216.50,370.30 217.00,372.47 217.50,374.50 218.00,376.39 218.50,378.14 219.00,379.74 219.50,381.18 220.00,382.46 220.50,383.58 221.00,384.52 221.50,385.30 222.00,385.89 222.50,386.31 223.00,386.54 223.50,386.59 224.00,386.42 224.50,385.99 225.00,385.30 225.50,384.37 226.00,383.20 226.50,381.79 227.00,380.15 227.50,378.29 228.00,376.22 228.50,373.94 229.00,371.48 229.50,368.85 230.00,366.05 230.50,363.11 231.00,360.03 231.50,356.84 232.00,353.55 232.50,350.18 233.00,346.75 233.50,343.27 234.00,339.76 234.50,336.24 235.00,332.73 235.50,329.25 236.00,325.82 236.50,322.45 237.00,319.16 237.50,315.97 238.00,312.89 238.50,309.95 239.00,307.15 239.50,304.52 240.00,302.06 240.50,299.78 241.00,297.71 241.50,295.85 242.00,294.21 242.50,292.80 243.00,291.63 243.50,290.70 244.00,290.01 244.50,289.58 245.00,289.41 245.50,289.46 246.00,289.71 246.50,290.14 247.00,290.76 247.50,291.56 248.00,292.54 248.50,293.70 249.00,295.04 249.50,296.53 250.00,298.19 250.50,300.01 251.00,301.97 251.50,304.07 252.00,306.30 252.50,308.66 253.00,311.13 253.50,313.70 254.00,316.37 254.50,319.12 255.00,321.94 255.50,324.82 256.00,327.76 256.50,330.73 257.00,333.73 257.50,336.74 258.00,339.76 258.50,342.77 259.00,345.76 259.50,348.72 260.00,351.64 260.50,354.50 261.00,357.29 261.50,360.01 262.00,362.64 262.50,365.17 263.00,367.60 263.50,369.91 264.00,372.09 264.50,374.13 265.00,376.04 265.50,377.79 266.00,379.39 266.50,380.82 267.00,382.08 267.50,383.17 268.00,384.08 268.50,384.81 269.00,385.36 269.50,385.71 270.00,385.88 270.50,385.85 271.00,385.55 271.50,384.97 272.00,384.12 272.50,383.01 273.00,381.64 273.50,380.01 274.00,378.14 274.50,376.05 275.00,373.73 275.50,371.21 276.00,368.49 276.50,365.60 277.00,362.55 277.50,359.36 278.00,356.05 278.50,352.63 279.00,349.13 279.50,345.56 280.00,341.95 280.50,338.31 281.00,334.68 281.50,331.06 282.00,327.48 282.50,323.97 283.00,320.53 283.50,317.19" fill="none" stroke="#d95319" stroke-width="1.3"/></g><line x1="38.0" y1="275.2" x2="283.8" y2="275.2" stroke="#262626" stroke-width="1.2"/><line x1="38.0" y1="393.0" x2="283.8" y2="393.0" stroke="#262626" stroke-width="1.2"/><line x1="38.00" y1="393.0" x2="38.00" y2="390.5" stroke="#262626" stroke-width="1"/><line x1="38.00" y1="275.2" x2="38.00" y2="277.7" stroke="#262626" stroke-width="1"/><line x1="87.16" y1="393.0" x2="87.16" y2="390.5" stroke="#262626" stroke-width="1"/><line x1="87.16" y1="275.2" x2="87.16" y2="277.7" stroke="#262626" stroke-width="1"/><line x1="136.32" y1="393.0" x2="136.32" y2="390.5" stroke="#262626" stroke-width="1"/><line x1="136.32" y1="275.2" x2="136.32" y2="277.7" stroke="#262626" stroke-width="1"/><line x1="185.48" y1="393.0" x2="185.48" y2="390.5" stroke="#262626" stroke-width="1"/><line x1="185.48" y1="275.2" x2="185.48" y2="277.7" stroke="#262626" stroke-width="1"/><line x1="234.64" y1="393.0" x2="234.64" y2="390.5" stroke="#262626" stroke-width="1"/><line x1="234.64" y1="275.2" x2="234.64" y2="277.7" stroke="#262626" stroke-width="1"/><line x1="283.80" y1="393.0" x2="283.80" y2="390.5" stroke="#262626" stroke-width="1"/><line x1="283.80" y1="275.2" x2="283.80" y2="277.7" stroke="#262626" stroke-width="1"/><text transform="translate(30.86,405.98) scale(0.8037,1)" font-size="11.864" font-family="Liberation Sans" font-weight="bold" fill="#000">401</text><text transform="translate(75.45,405.98) scale(0.8473,1)" font-size="11.864" font-family="Liberation Sans" font-weight="bold" fill="#000">401.2</text><text transform="translate(124.75,405.98) scale(0.8218,1)" font-size="11.864" font-family="Liberation Sans" font-weight="bold" fill="#000">401.4</text><text transform="translate(174.65,405.98) scale(0.8597,1)" font-size="11.864" font-family="Liberation Sans" font-weight="bold" fill="#000">401.6</text><text transform="translate(222.35,405.98) scale(0.8612,1)" font-size="11.864" font-family="Liberation Sans" font-weight="bold" fill="#000">401.8</text><text transform="translate(273.05,405.98) scale(0.8150,1)" font-size="11.864" font-family="Liberation Sans" font-weight="bold" fill="#000">402</text><text transform="translate(141.78,421.83) scale(0.8559,1)" font-size="12.874" font-family="Liberation Sans" font-weight="bold" fill="#000">Time [ms]</text><line x1="38.0" y1="275.2" x2="38.0" y2="393.0" stroke="#0072bd" stroke-width="1.3"/><line x1="38.0" y1="372.92" x2="40.5" y2="372.92" stroke="#0072bd" stroke-width="1"/><line x1="38.0" y1="353.36" x2="40.5" y2="353.36" stroke="#0072bd" stroke-width="1"/><line x1="38.0" y1="333.80" x2="40.5" y2="333.80" stroke="#0072bd" stroke-width="1"/><line x1="38.0" y1="314.24" x2="40.5" y2="314.24" stroke="#0072bd" stroke-width="1"/><line x1="38.0" y1="294.68" x2="40.5" y2="294.68" stroke="#0072bd" stroke-width="1"/><text transform="translate(29.03,296.99) scale(0.8000,1)" font-size="11.723" font-family="Liberation Sans" font-weight="bold" fill="#0072bd">4</text><text transform="translate(29.37,337.54) scale(0.8000,1)" font-size="11.723" font-family="Liberation Sans" font-weight="bold" fill="#0072bd">0</text><text transform="translate(25.91,376.94) scale(0.8000,1)" font-size="11.723" font-family="Liberation Sans" font-weight="bold" fill="#0072bd">-4</text><text transform="translate(18.05,373.65) rotate(-90) scale(0.8279,1)" font-size="13.454" font-family="Liberation Sans" font-weight="bold" fill="#0072bd">FILD signal [V]</text><line x1="283.8" y1="275.2" x2="283.8" y2="393.0" stroke="#d95319" stroke-width="1.3"/><line x1="281.3" y1="275.20" x2="283.8" y2="275.20" stroke="#d95319" stroke-width="1"/><line x1="281.3" y1="289.93" x2="283.8" y2="289.93" stroke="#d95319" stroke-width="1"/><line x1="281.3" y1="304.65" x2="283.8" y2="304.65" stroke="#d95319" stroke-width="1"/><line x1="281.3" y1="319.38" x2="283.8" y2="319.38" stroke="#d95319" stroke-width="1"/><line x1="281.3" y1="334.10" x2="283.8" y2="334.10" stroke="#d95319" stroke-width="1"/><line x1="281.3" y1="348.82" x2="283.8" y2="348.82" stroke="#d95319" stroke-width="1"/><line x1="281.3" y1="363.55" x2="283.8" y2="363.55" stroke="#d95319" stroke-width="1"/><line x1="281.3" y1="378.27" x2="283.8" y2="378.27" stroke="#d95319" stroke-width="1"/><line x1="281.3" y1="393.00" x2="283.8" y2="393.00" stroke="#d95319" stroke-width="1"/><text transform="translate(286.87,280.93) scale(0.8000,1)" font-size="11.864" font-family="Liberation Sans" font-weight="bold" fill="#d95319">20</text><text transform="translate(286.60,307.88) scale(0.8000,1)" font-size="11.864" font-family="Liberation Sans" font-weight="bold" fill="#d95319">10</text><text transform="translate(286.82,336.58) scale(0.8000,1)" font-size="11.864" font-family="Liberation Sans" font-weight="bold" fill="#d95319">0</text><text transform="translate(286.63,365.68) scale(0.8000,1)" font-size="11.864" font-family="Liberation Sans" font-weight="bold" fill="#d95319">-10</text><text transform="translate(286.63,393.58) scale(0.8000,1)" font-size="11.864" font-family="Liberation Sans" font-weight="bold" fill="#d95319">-20</text><text transform="translate(315.03,393.74) rotate(-90) scale(0.8040,1)" font-size="13.839" font-family="Liberation Sans" font-weight="bold" fill="#d95319">Mirnov coil (sector 13)</text><text transform="translate(330.52,355.32) rotate(-90) scale(0.8902,1)" font-size="12.445" font-family="Liberation Sans" font-weight="bold" fill="#d95319">[Gauss]</text><text transform="translate(260.80,271.21) scale(0.9337,1)" font-size="8.898" font-family="Liberation Sans" font-weight="bold" fill="#000">68506</text><text transform="translate(41.72,387.32) scale(0.9894,1)" font-size="14.447" font-family="Liberation Serif" font-weight="bold" fill="#000">b)</text></svg></body></html>
